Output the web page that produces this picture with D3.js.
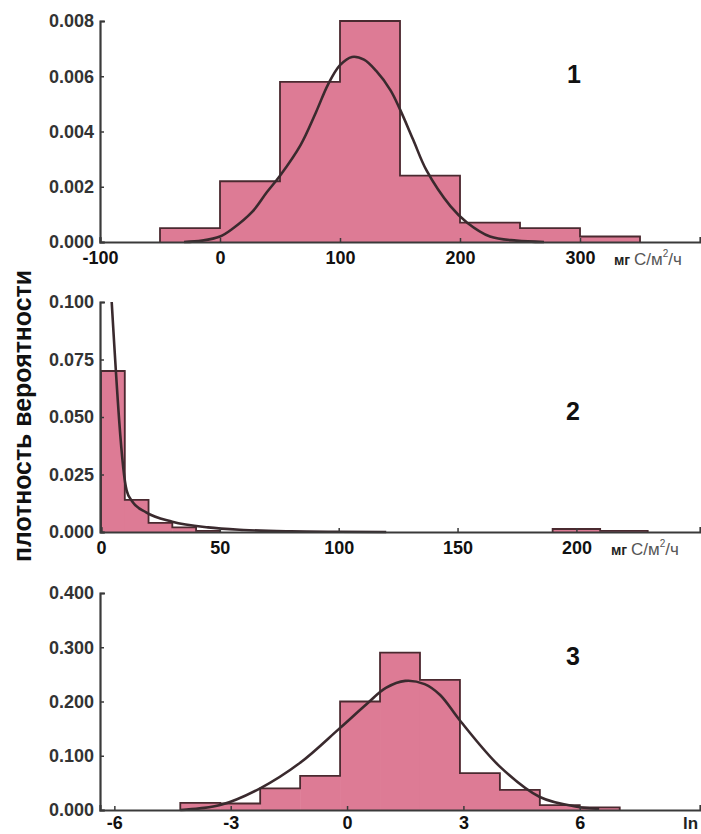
<!DOCTYPE html>
<html>
<head>
<meta charset="utf-8">
<title>плотность вероятности</title>
<script src="https://cdn.jsdelivr.net/npm/d3@7"></script>
<style>
  body { margin: 0; background: #fff; }
  text { font-family: "Liberation Sans", Arial, sans-serif; }
</style>
</head>
<body>
<div id="chart"></div>
<script>
// ---- panel 1: мг С/м²/ч ----
const p1Edges = [-50, 0, 50, 100, 150, 200, 250, 300, 350];
const p1Dens = [0.0005, 0.0022, 0.0058, 0.0080, 0.0024, 0.0007, 0.0005, 0.0002];
const p1CurveX = [-30, -15, 0, 11, 27, 39, 50, 67, 80, 90, 100, 110, 120, 130, 142, 150, 161, 172, 192, 206, 225, 247, 270];
const p1CurveY = [0, 0.00005, 0.0002, 0.0005, 0.0011, 0.0018, 0.0024, 0.0035, 0.0047, 0.0057, 0.0064, 0.0067, 0.0066, 0.0062, 0.0055, 0.0048, 0.0037, 0.0026, 0.0013, 0.0007, 0.0002, 0.00005, 0];
const p1XTicks = [-100, 0, 100, 200, 300];
const p1YTicks = [0, 0.002, 0.004, 0.006, 0.008];

// ---- panel 2 ----
const p2X0 = [0, 10, 20, 30, 40, 190, 200, 210, 220];
const p2X1 = [10, 20, 30, 40, 50, 200, 210, 220, 230];
const p2Dens = [0.070, 0.014, 0.004, 0.002, 0.0005, 0.0013, 0.0013, 0.0005, 0.0005];
const p2CurveX = [4.5, 10.8, 13, 19, 30, 45, 60, 80, 100, 120];
const p2CurveY = [0.100, 0.018, 0.0135, 0.0085, 0.0045, 0.002, 0.0009, 0.0003, 0.0001, 0];
const p2XTicks = [0, 50, 100, 150, 200];
const p2YTicks = [0, 0.025, 0.05, 0.075, 0.1];

// ---- panel 3: ln ----
const p3Edges = [-4.3, -3.27, -2.24, -1.21, -0.18, 0.85, 1.88, 2.91, 3.94, 4.97, 6.0, 7.03];
const p3Dens = [0.013, 0.012, 0.040, 0.063, 0.200, 0.290, 0.240, 0.068, 0.037, 0.009, 0.005];
const p3CurveX = [-4.3, -3.8, -3.27, -2.24, -1.21, -0.2, 0.5, 1.0, 1.5, 2.0, 2.4, 2.91, 3.94, 4.97, 5.93, 6.5];
const p3CurveY = [0, 0.003, 0.009, 0.040, 0.087, 0.150, 0.195, 0.225, 0.238, 0.232, 0.212, 0.165, 0.080, 0.024, 0.006, 0.002];
const p3XTicks = [-6, -3, 0, 3, 6];
const p3YTicks = [0, 0.1, 0.2, 0.3, 0.4];

const W = 701, H = 834;
const pink = "#dd7b95", outline = "#4a2a30", curveCol = "#3a2a2e", axisCol = "#3a3a3a";

const svg = d3.select("#chart").append("svg")
    .attr("width", W).attr("height", H);

function bins(x0, x1, dens) {
    return dens.map((d, i) => ({ x0: x0[i], x1: x1[i], y: d }));
}

// split bins into runs of touching bars, so the outline is one step line per run
function runs(bs) {
    const out = [];
    bs.forEach((b, i) => {
        if (i === 0 || bs[i - 1].x1 !== b.x0) out.push([]);
        out[out.length - 1].push(b);
    });
    return out;
}

const panels = [
    {
        x: d3.scaleLinear().domain([-100, 400]).range([100, 700]),
        y: d3.scaleLinear().domain([0, 0.008]).range([242, 21]),
        bars: bins(p1Edges.slice(0, -1), p1Edges.slice(1), p1Dens),
        cx: p1CurveX, cy: p1CurveY, smooth: d3.curveCatmullRom.alpha(0.5),
        xt: p1XTicks, yt: p1YTicks, pad: 9,
        num: "1", numPos: [574, 83], unit: "mg", unitPos: [614, 265]
    },
    {
        x: d3.scaleLinear().domain([0, 252]).range([101, 700]),
        y: d3.scaleLinear().domain([0, 0.1]).range([532, 302]),
        bars: bins(p2X0, p2X1, p2Dens),
        cx: p2CurveX, cy: p2CurveY, smooth: d3.curveMonotoneX,
        xt: p2XTicks, yt: p2YTicks, pad: 9,
        num: "2", numPos: [573, 420], unit: "mg", unitPos: [611, 555]
    },
    {
        x: d3.scaleLinear().domain([-6.37, 9.1]).range([100, 700]),
        y: d3.scaleLinear().domain([0, 0.4]).range([810, 593]),
        bars: bins(p3Edges.slice(0, -1), p3Edges.slice(1), p3Dens),
        cx: p3CurveX, cy: p3CurveY, smooth: d3.curveCatmullRom.alpha(0.5),
        xt: p3XTicks, yt: p3YTicks, pad: 6,
        num: "3", numPos: [573, 665], unit: "ln", unitPos: [683, 829]
    }
];

panels.forEach(p => {
    const g = svg.append("g");

    // histogram fill
    g.selectAll(".bar")
        .data(p.bars)
        .enter()
        .append("rect")
        .attr("class", "bar")
        .attr("x", d => p.x(d.x0))
        .attr("y", d => p.y(d.y))
        .attr("width", d => p.x(d.x1) - p.x(d.x0) + 0.5)
        .attr("height", d => p.y(0) - p.y(d.y))
        .attr("fill", pink);

    // histogram outline (step line)
    const step = d3.line().x(d => p.x(d[0])).y(d => p.y(d[1]));
    g.selectAll(".outline")
        .data(runs(p.bars))
        .enter()
        .append("path")
        .attr("class", "outline")
        .attr("fill", "none")
        .attr("stroke", outline)
        .attr("stroke-width", 1.8)
        .attr("stroke-linejoin", "miter")
        .attr("d", r => {
            const pts = [[r[0].x0, 0]];
            r.forEach(b => { pts.push([b.x0, b.y], [b.x1, b.y]); });
            pts.push([r[r.length - 1].x1, 0]);
            return step(pts);
        });

    // fitted curve
    const pts = p.cx.map((v, i) => [v, p.cy[i]]);
    g.append("path")
        .datum(pts)
        .attr("fill", "none")
        .attr("stroke", curveCol)
        .attr("stroke-width", 2.6)
        .attr("d", d3.line()
            .x(d => p.x(d[0]))
            .y(d => p.y(d[1]))
            .curve(p.smooth));

    // x axis
    const xa = g.append("g")
        .attr("transform", `translate(0,${p.y(0)})`)
        .call(d3.axisBottom(p.x).tickValues(p.xt).tickFormat(d => String(d))
            .tickSizeInner(-4).tickSizeOuter(-5).tickPadding(p.pad));
    xa.select(".domain").attr("stroke", axisCol).attr("stroke-width", 2.2);
    xa.selectAll(".tick line").attr("stroke", axisCol).attr("stroke-width", 1.5);
    xa.selectAll(".tick text")
        .attr("font-size", 18).attr("font-weight", "bold").attr("fill", "#111")
        .attr("font-family", "'Liberation Sans', Arial, sans-serif");

    // y axis
    const ya = g.append("g")
        .attr("transform", `translate(100,0)`)
        .call(d3.axisLeft(p.y).tickValues(p.yt).tickFormat(d3.format(".3f"))
            .tickSizeInner(-4).tickSizeOuter(-5).tickPadding(6));
    ya.select(".domain").attr("stroke", axisCol).attr("stroke-width", 2.2);
    ya.selectAll(".tick line").attr("stroke", axisCol).attr("stroke-width", 1.5);
    ya.selectAll(".tick text")
        .attr("font-size", 18).attr("font-weight", "bold").attr("fill", "#333")
        .attr("font-family", "'Liberation Sans', Arial, sans-serif");

    // panel number
    g.append("text")
        .attr("x", p.numPos[0]).attr("y", p.numPos[1])
        .attr("text-anchor", "middle")
        .attr("font-size", 25).attr("font-weight", "bold").attr("fill", "#111")
        .text(p.num);

    // unit label
    const u = g.append("text")
        .attr("x", p.unitPos[0]).attr("y", p.unitPos[1])
        .attr("fill", "#222");
    if (p.unit === "mg") {
        u.append("tspan").attr("font-size", 14).attr("font-weight", "bold").text("мг ");
        u.append("tspan").attr("font-size", 17).attr("fill", "#555").text("С/м");
        u.append("tspan").attr("font-size", 10).attr("dy", -8).attr("fill", "#555").text("2");
        u.append("tspan").attr("font-size", 17).attr("dy", 8).attr("fill", "#555").text("/ч");
    } else {
        u.attr("font-size", 17).attr("font-weight", "bold").text("ln");
    }
});

// shared y label
svg.append("text")
    .attr("transform", "translate(31,416) rotate(-90)")
    .attr("text-anchor", "middle")
    .attr("font-size", 25)
    .attr("font-weight", "bold")
    .attr("fill", "#111")
    .attr("textLength", 292)
    .attr("lengthAdjust", "spacingAndGlyphs")
    .text("плотность вероятности");
</script>
</body>
</html>
